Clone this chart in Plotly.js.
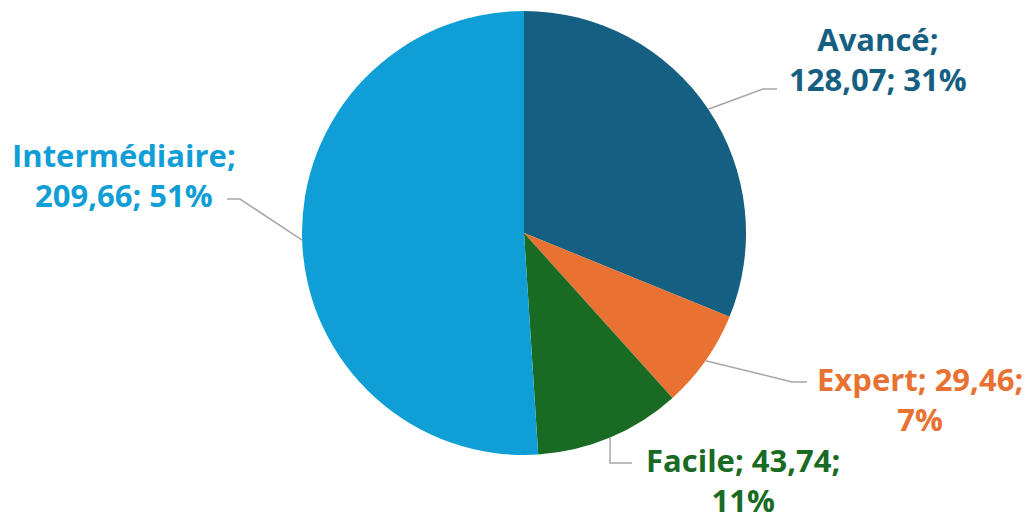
<!DOCTYPE html>
<html><head><meta charset="utf-8">
<script src="https://cdn.plot.ly/plotly-3.0.1.min.js"></script>
<style>html,body{margin:0;padding:0;background:#fff}</style>
</head><body><div id="chart" style="width:1034px;height:520px"></div>
<script>
const categories = ["Avancé", "Expert", "Facile", "Intermédiaire"];
const values = [128.07, 29.46, 43.74, 209.66];
const percents = [31, 7, 11, 51];
const colors = ["#156082", "#E97132", "#196B24", "#0F9ED5"];

const W = 1034, H = 520;
const cx = 524, cy = 233, R = 222;
const px = x => x / W, py = y => 1 - y / H;
const fmt = v => v.toFixed(2).replace('.', ',');

// label layout: block center, leader bend, leader end
const labelLayout = [
  {split: 1, c: [878, 59], bend: [763, 89], end: [777, 89]},
  {split: 2, c: [920, 399], bend: [792, 382], end: [807, 382]},
  {split: 2, c: [743, 480], bend: [610, 463], end: [632, 463]},
  {split: 1, c: [124, 175], bend: [240, 199], end: [227, 199]}
];

const total = values.reduce((a, b) => a + b, 0);
let acc = 0;
const annotations = [], shapes = [];
values.forEach((v, i) => {
  const mid = (acc + v / 2) / total * 2 * Math.PI;
  acc += v;
  const sx = cx + R * Math.sin(mid), sy = cy - R * Math.cos(mid);
  const L = labelLayout[i];
  let t1, t2;
  if (L.split === 1) { t1 = categories[i] + ";"; t2 = fmt(v) + "; " + percents[i] + "%"; }
  else { t1 = categories[i] + "; " + fmt(v) + ";"; t2 = percents[i] + "%"; }
  const font = {family: "Open Sans, Arial, sans-serif", size: 31, color: colors[i], weight: 700};
  annotations.push({xref: 'paper', yref: 'paper', x: px(L.c[0]), y: py(L.c[1]),
    text: "<b>" + t1 + "</b><br><b>" + t2 + "</b>", showarrow: false, align: 'center',
    xanchor: 'center', yanchor: 'middle', borderpad: 0, font});
  shapes.push({type: 'path', xref: 'paper', yref: 'paper',
    path: `M ${px(sx)} ${py(sy)} L ${px(L.bend[0])} ${py(L.bend[1])} L ${px(L.end[0])} ${py(L.end[1])}`,
    line: {color: '#A6A6A6', width: 1.5}});
});

const trace = {
  type: 'pie', labels: categories, values: values, sort: false, direction: 'clockwise', rotation: 0,
  marker: {colors: colors, line: {width: 0}}, textinfo: 'none', hoverinfo: 'none', showlegend: false,
  domain: {x: [px(cx - R), px(cx + R)], y: [py(cy + R), py(cy - R)]}
};

Plotly.newPlot('chart', [trace], {
  width: W, height: H, margin: {l: 0, r: 0, t: 0, b: 0},
  paper_bgcolor: '#fff', plot_bgcolor: '#fff', showlegend: false,
  annotations, shapes
}, {displayModeBar: false, staticPlot: true});
</script></body></html>
